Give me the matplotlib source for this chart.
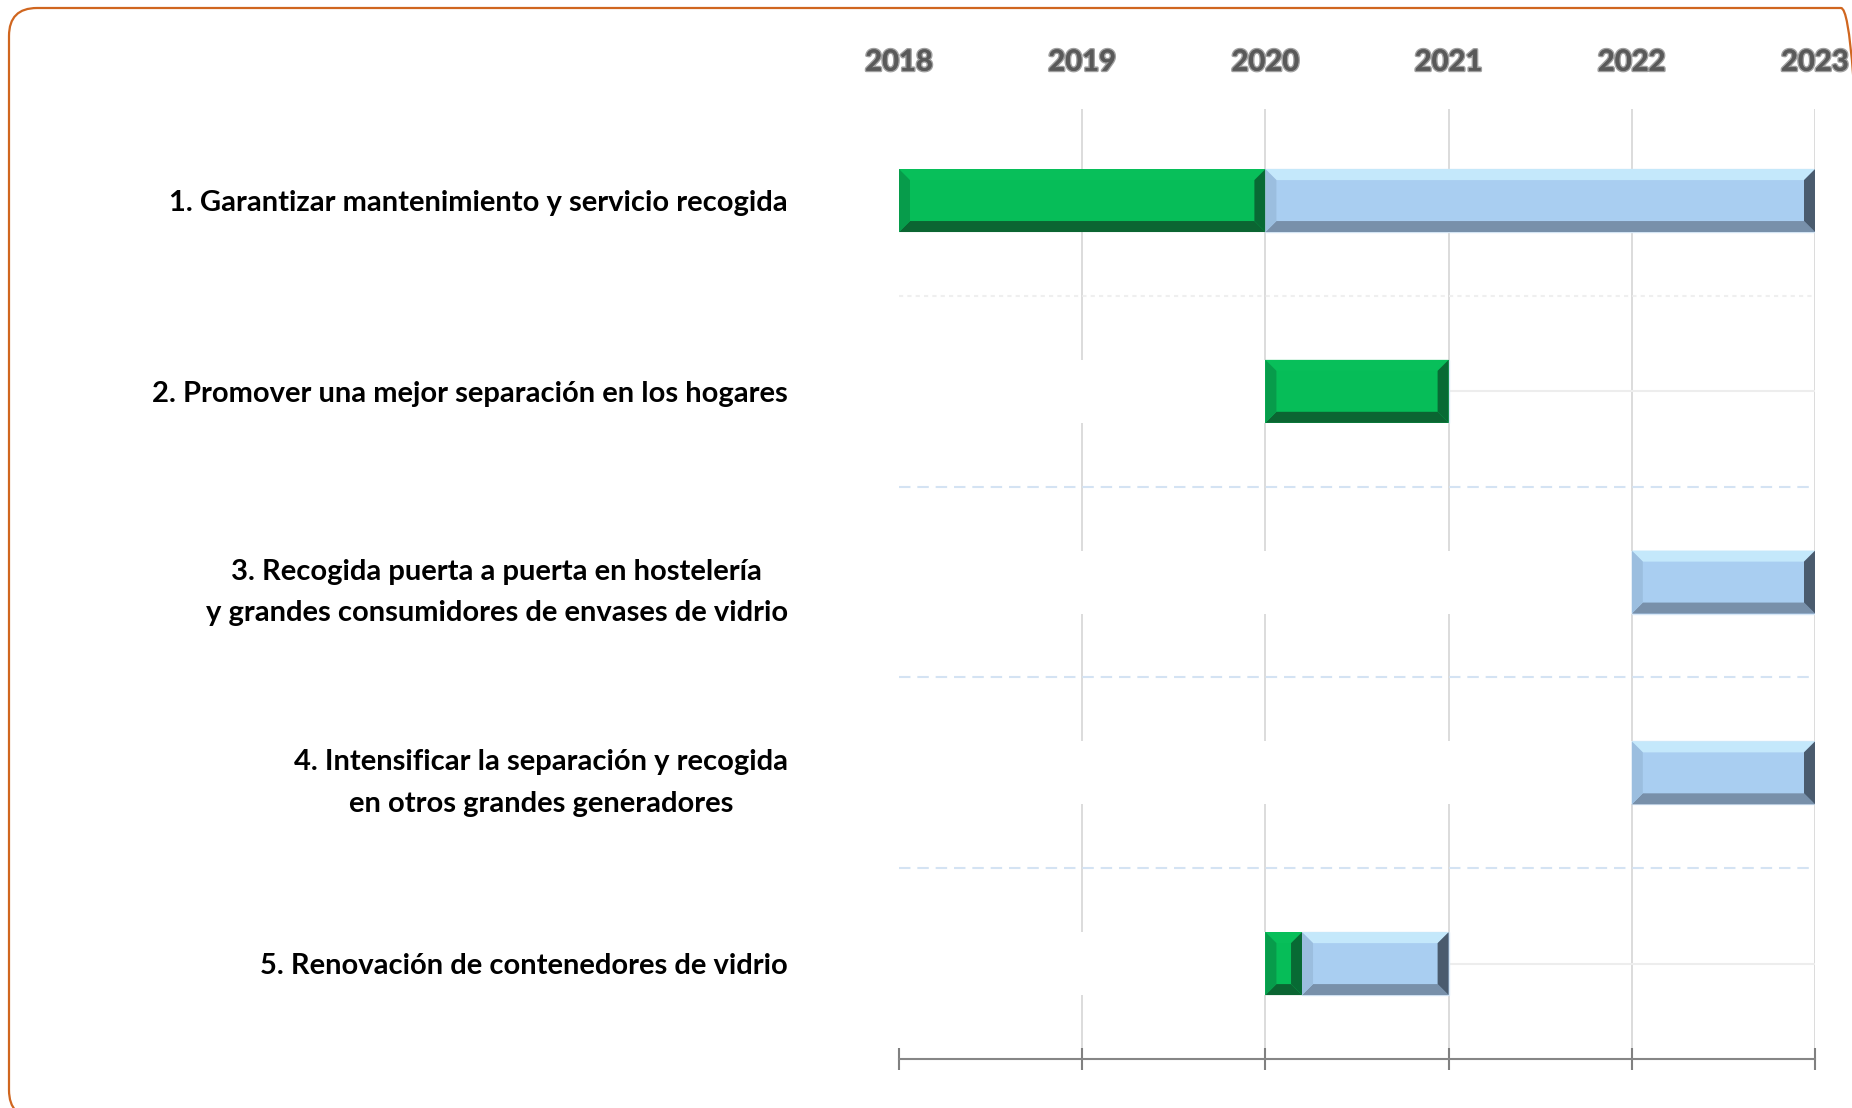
import numpy as np
import matplotlib.pyplot as plt
import matplotlib.patheffects as pe
from matplotlib.patches import Polygon, FancyBboxPatch

# Datos del cronograma
tareas = [
    "1. Garantizar mantenimiento y servicio recogida",
    "2. Promover una mejor separación en los hogares",
    "3. Recogida puerta a puerta en hostelería\ny grandes consumidores de envases de vidrio",
    "4. Intensificar la separación y recogida\nen otros grandes generadores",
    "5. Renovación de contenedores de vidrio",
]
anios = [2018, 2019, 2020, 2021, 2022, 2023]
anio_inicio = 2018
desfase = [0, 2, 4, 4, 2]          # años en blanco antes de la barra
verde = [2, 1, 0, 0, 0.2]          # tramo verde (años)
azul = [3, 0, 1, 1, 0.8]           # tramo azul (años)

plt.rcParams['font.family'] = ['Lato', 'DejaVu Sans']

fig = plt.figure(figsize=(18.52, 11.08), dpi=100)
ax = fig.add_axes([899 / 1852, 49 / 1108, 916 / 1852, 950 / 1108])

y = np.arange(len(tareas))
ax.set_xlim(anios[0], anios[-1])
ax.set_ylim(4.5, -0.48)

# Rejilla
ax.vlines(anios[1:], -0.48, 4.5, color='#D9D9D9', lw=1.3, zorder=0)
ax.hlines(y, anios[0], anios[-1], color='#EDEDED', lw=1.5, zorder=0)
ax.hlines([0.5], anios[0], anios[-1], color='#EFEFEF', lw=1.5, ls=(0, (2, 2)), zorder=0)
ax.hlines([1.5, 2.5, 3.5], anios[0], anios[-1], color='#D4E3F3', lw=1.5,
          ls=(0, (5.5, 3.3)), zorder=0)

alto = 0.33
izq = anio_inicio + np.array(desfase, dtype=float)
ax.barh(y, desfase, left=anio_inicio, height=alto, color='white', zorder=1)
barras_v = ax.barh(y, verde, left=izq, height=alto, color='#06BD58', zorder=2)
barras_a = ax.barh(y, azul, left=izq + np.array(verde), height=alto, color='#A9CEF1',
                   edgecolor='#D8E8F7', lw=1, zorder=2)


def bisel(p, cols, b=11):
    if p.get_width() <= 0:
        return
    x0, y0 = p.get_x(), p.get_y()
    pts = ax.transData.transform([[x0, y0], [x0 + p.get_width(), y0 + p.get_height()]])
    l, r = pts[:, 0].min(), pts[:, 0].max()
    bo, t = pts[:, 1].min(), pts[:, 1].max()
    b = min(b, (r - l) / 2 - 1, (t - bo) / 2 - 1)
    caras = {
        'top': [(l, t), (r, t), (r - b, t - b), (l + b, t - b)],
        'bottom': [(l, bo), (r, bo), (r - b, bo + b), (l + b, bo + b)],
        'left': [(l, bo), (l, t), (l + b, t - b), (l + b, bo + b)],
        'right': [(r, bo), (r, t), (r - b, t - b), (r - b, bo + b)],
    }
    inv = ax.transData.inverted()
    for k, pol in caras.items():
        ax.add_patch(Polygon(inv.transform(pol), closed=True, fc=cols[k], ec='none', zorder=3))


for p in barras_v:
    bisel(p, {'top': '#08BF5A', 'left': '#079C4B', 'bottom': '#0B6532', 'right': '#086A34'})
for p in barras_a:
    bisel(p, {'top': '#C4E8FB', 'left': '#9BBEDF', 'bottom': '#7890AA', 'right': '#4A5B6E'})

# Ejes y etiquetas
ax.set_xticks(anios, labels=[str(a) for a in anios])
ax.tick_params(axis='x', bottom=True, top=False, labelbottom=False, labeltop=True,
               direction='inout', length=16, width=1.5, color='#808080', pad=16,
               labelsize=21, labelcolor='#595959')
for t in ax.get_xticklabels():
    t.set_fontweight('bold')
    t.set_path_effects([pe.withStroke(linewidth=2.2, foreground='#A0A0A0'), pe.Normal()])

ax.set_yticks(y, labels=tareas)
ax.tick_params(axis='y', length=0, pad=80, labelsize=21)
for t in ax.get_yticklabels():
    t.set_fontweight('bold')
    t.set_multialignment('center')
    t.set_linespacing(1.75)

for s in ['top', 'left', 'right']:
    ax.spines[s].set_visible(False)
ax.spines['bottom'].set_color('#868686')
ax.spines['bottom'].set_linewidth(1.5)

# Marco redondeado
marco = FancyBboxPatch((0.09, -0.1), 18.6, 11.1, boxstyle='round,pad=0,rounding_size=0.28',
                       transform=fig.dpi_scale_trans, fc='none', ec='#D0661F', lw=1.6)
fig.patches.append(marco)

fig.savefig('out.png', dpi=100)
